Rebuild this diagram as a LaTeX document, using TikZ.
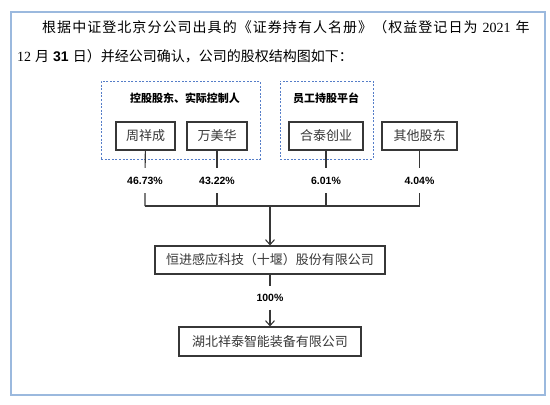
\documentclass[tikz,border=0pt]{standalone}
\usepackage{fontspec}
\setmainfont{Liberation Serif}
\setsansfont{Liberation Sans}
\newfontfamily\cjk{Noto Sans CJK SC}
\newfontfamily\cjkwide[LetterSpace=7.5]{Noto Sans CJK SC}
\usetikzlibrary{arrows.meta}
\definecolor{Frame}{RGB}{155,185,222}
\definecolor{Dash}{RGB}{85,125,200}
\definecolor{Ink}{RGB}{55,55,55}

\begin{document}
\begin{tikzpicture}[x=1pt,y=-1pt,
  holder/.style={draw=Ink,line width=1.1pt,inner sep=0pt,minimum height=28pt,text=Ink,font=\cjk\fontsize{13}{15}\selectfont},
  group/.style={draw=Dash,line width=1pt,dash pattern=on 2pt off 1.6pt,inner sep=0pt},
  grouptitle/.style={font=\cjk\bfseries\fontsize{11}{13}\selectfont},
  pct/.style={inner sep=0pt,minimum height=25pt,font=\sffamily\bfseries\fontsize{10.5}{12}\selectfont},
  link/.style={draw=Ink,line width=1.1pt},
  arrow/.style={link,-{Straight Barb[length=5pt,width=9pt,line width=1.1pt]}}]
\path[use as bounding box] (0,0) rectangle (550,405);
\draw[Frame,line width=1.5pt] (11,12) rectangle (545,395);
\node[anchor=west,inner sep=0pt,font=\fontsize{14}{16}\selectfont] (line1) at (42,27)
  {{\cjkwide 根据中证登北京分公司出具的《证券持有人名册》（权益登记日为}\hspace{5pt}2021\hspace{5pt}{\cjk 年}};
\node[anchor=west,inner sep=0pt,font=\fontsize{14}{16}\selectfont] (line2) at (17,56)
  {12\hspace{4pt}{\cjk 月}\hspace{4pt}{\sffamily\bfseries 31}\hspace{4pt}{\cjk 日）并经公司确认，公司的股权结构图如下：}};

\node[group,minimum width=159pt,minimum height=78pt] (ctrl) at (180.5,120) {};
\node[group,minimum width=93pt,minimum height=78pt] (esop) at (326.5,120) {};
\node[grouptitle] (ctrltitle) at (185,98) {控股股东、实际控制人};
\node[grouptitle] (esoptitle) at (326,98) {员工持股平台};

\node[holder,minimum width=59pt] (zhou) at (145.5,136) {周祥成};
\node[holder,minimum width=60pt] (wan) at (217,136) {万美华};
\node[holder,minimum width=74pt] (hetai) at (326,136) {合泰创业};
\node[holder,minimum width=75pt] (other) at (419.5,136) {其他股东};

\node[pct] (p1) at (145,180.5) {46.73\%};
\node[pct] (p2) at (217,180.5) {43.22\%};
\node[pct] (p3) at (326,180.5) {6.01\%};
\node[pct] (p4) at (419.5,180.5) {4.04\%};

\coordinate (j1) at (145,206);
\coordinate (j2) at (217,206);
\coordinate (j3) at (326,206);
\coordinate (j4) at (419.5,206);
\coordinate (hub) at (270,206);

\node[holder,minimum width=230pt] (hengjin) at (270,260) {恒进感应科技（十堰）股份有限公司};
\node[pct,minimum height=23pt] (p5) at (270,298) {100\%};
\node[holder,minimum width=182pt,minimum height=29pt] (hubei) at (270,341.5) {湖北祥泰智能装备有限公司};

\draw[link] (zhou) -- (p1) (p1) -- (j1);
\draw[link] (wan) -- (p2) (p2) -- (j2);
\draw[link] (hetai) -- (p3) (p3) -- (j3);
\draw[link] (other) -- (p4) (p4) -- (j4);
\draw[link] (j1) -- (j4);
\draw[arrow] (hub) -- (hengjin);
\draw[link] (hengjin) -- (p5);
\draw[arrow] (p5) -- (hubei);
\end{tikzpicture}
\end{document}
